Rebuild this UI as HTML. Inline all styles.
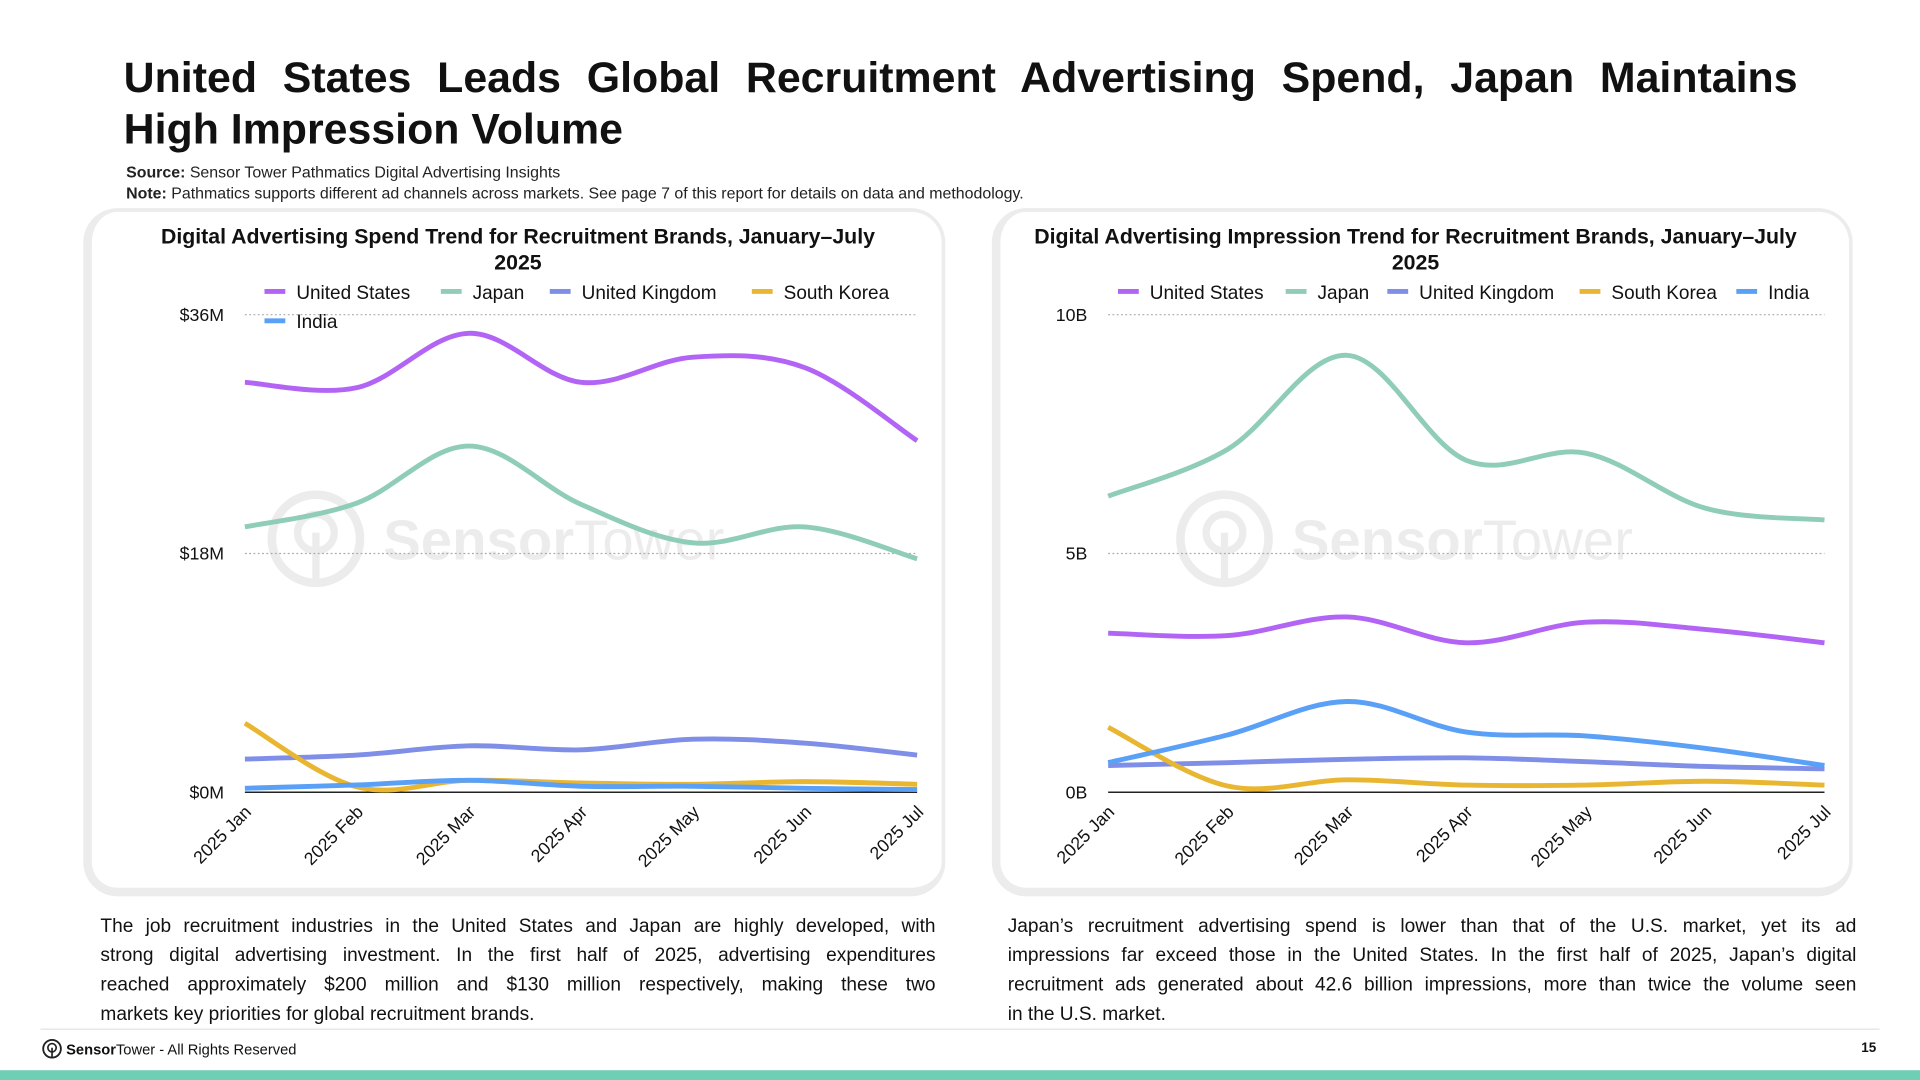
<!DOCTYPE html>
<html><head><meta charset="utf-8">
<style>
html,body{margin:0;padding:0;background:#fff;overflow:hidden}
#wrap{position:absolute;left:0;top:0;width:1568px;height:882px;transform:scale(1.22449);transform-origin:0 0;font-family:"Liberation Sans",sans-serif;color:#111}
.abs{position:absolute}
#title{left:101px;top:43px;width:1367px;font-weight:bold;font-size:35px;line-height:42px;text-align:justify;text-align-last:left}
#title span{display:block;text-align:justify;text-align-last:justify}
.meta{left:103px;font-size:13px;color:#222}
.card{border:7px solid #ececec;border-top-width:3px;border-right-width:3px;border-radius:28px;background:#fff;box-sizing:border-box}
.para{font-size:15.6px;line-height:24px;color:#111;white-space:nowrap}
.para span{display:block;text-align:justify;text-align-last:justify}
.para span.last{text-align-last:left}
</style></head>
<body>
<div id="wrap">
<div id="title" class="abs"><span>United States Leads Global Recruitment Advertising Spend, Japan Maintains</span>High Impression Volume</div>
<div class="abs meta" style="top:133px"><b>Source:</b> Sensor Tower Pathmatics Digital Advertising Insights</div>
<div class="abs meta" style="top:150px"><b>Note:</b> Pathmatics supports different ad channels across markets. See page 7 of this report for details on data and methodology.</div>
<div class="abs card" style="left:68px;top:170px;width:704px;height:562px"></div>
<div class="abs card" style="left:810px;top:170px;width:703px;height:562px"></div>
<div class="abs para" style="left:82px;top:745px;width:682px"><span>The job recruitment industries in the United States and Japan are highly developed, with</span><span>strong digital advertising investment. In the first half of 2025, advertising expenditures</span><span>reached approximately $200 million and $130 million respectively, making these two</span><span class="last">markets key priorities for global recruitment brands.</span></div>
<div class="abs para" style="left:823px;top:745px;width:693px"><span>Japan’s recruitment advertising spend is lower than that of the U.S. market, yet its ad</span><span>impressions far exceed those in the United States. In the first half of 2025, Japan’s digital</span><span>recruitment ads generated about 42.6 billion impressions, more than twice the volume seen</span><span class="last">in the U.S. market.</span></div>
<div class="abs" style="left:33px;top:840px;width:1502px;height:1px;background:#e3e3e3"></div>
<div class="abs" style="left:34px;top:848px;font-size:12px;display:flex;align-items:center">
<svg width="17" height="17" viewBox="0 0 20 20"><circle cx="10" cy="10" r="8.5" fill="none" stroke="#222" stroke-width="1.8"/><circle cx="10" cy="9" r="4" fill="none" stroke="#222" stroke-width="1.6"/><line x1="10" y1="9" x2="10" y2="18" stroke="#222" stroke-width="1.6"/></svg>
<span style="margin-left:3px"><b>Sensor</b>Tower - All Rights Reserved</span></div>
<div class="abs" style="left:1520px;top:850px;font-size:11px;font-weight:bold">15</div>
<div class="abs" style="left:0;top:874px;width:1568px;height:8px;background:#6fcfb5"></div>
<svg id="charts" class="abs" style="left:0;top:0" width="1568" height="882"></svg>
</div>
<script>
const months = ["2025 Jan","2025 Feb","2025 Mar","2025 Apr","2025 May","2025 Jun","2025 Jul"];
const seriesNames = ["United States","Japan","United Kingdom","South Korea","India"];
const seriesColors = ["#b264f5","#8fcdb8","#7f8ee6","#e8b630","#5aa0f7"];
const spendUS = [30.9,30.5,34.6,30.9,32.8,32.0,26.5];
const spendJapan = [20.0,21.8,26.1,21.7,18.8,20.0,17.6];
const spendUK = [2.5,2.8,3.5,3.2,4.0,3.7,2.8];
const spendKorea = [5.2,0.4,0.9,0.7,0.6,0.8,0.6];
const spendIndia = [0.3,0.55,0.9,0.45,0.45,0.3,0.2];
const spendTicks = [0,18,36];
const spendTickLabels = ["$0M","$18M","$36M"];
const imprUS = [3.33,3.28,3.67,3.13,3.56,3.41,3.13];
const imprJapan = [6.2,7.18,9.15,6.95,7.1,5.95,5.7];
const imprUK = [0.56,0.62,0.69,0.72,0.64,0.54,0.49];
const imprKorea = [1.36,0.13,0.26,0.15,0.15,0.23,0.15];
const imprIndia = [0.62,1.2,1.9,1.26,1.18,0.92,0.56];
const imprTicks = [0,5,10];
const imprTickLabels = ["0B","5B","10B"];

const NS="http://www.w3.org/2000/svg";
const svg=document.getElementById('charts');
function mk(tag,attrs,parent){const e=document.createElementNS(NS,tag);for(const k in attrs)e.setAttribute(k,attrs[k]);(parent||svg).appendChild(e);return e;}
function txt(s,attrs,parent){const e=mk('text',attrs,parent);e.textContent=s;return e;}

function drawChart(cfg){
  const g=mk('g',{});
  
  
  const x=i=>cfg.x0+i*(cfg.x1-cfg.x0)/(months.length-1);
  const y=v=>cfg.y0-(v/cfg.max)*(cfg.y0-cfg.y1);
  const wm=mk('g',{opacity:'0.07'},g);
  
  
  const cx=cfg.wmx, cy=440;
  mk('circle',{cx:cx,cy:cy,r:36,fill:'none',stroke:'#000','stroke-width':7},wm);
  mk('circle',{cx:cx,cy:cy-5,r:15,fill:'none',stroke:'#000','stroke-width':6},wm);
  mk('line',{x1:cx,y1:cy-5,x2:cx,y2:cy+34,stroke:'#000','stroke-width':6},wm);
  const wt=txt('',{x:cx+55,y:cy+17,'font-size':46,fill:'#000','font-family':'Liberation Sans, sans-serif'},wm);
  wt.innerHTML='<tspan font-weight="bold">Sensor</tspan>Tower';
  cfg.title.forEach((t,i)=>{const e=txt(t,{x:cfg.tcx,y:199+i*21,'text-anchor':'middle','font-size':17.4,'font-weight':'bold',fill:'#111'},g);
    });
  cfg.ticks.forEach((t,i)=>{
    const yy=y(t);
    const ln=mk('line',{x1:cfg.x0,x2:cfg.x1,y1:yy,y2:yy,stroke:t===0?'#222':'#aaa','stroke-width':t===0?1.3:1,'stroke-dasharray':t===0?'':'1.5,2'},g);
    
    const lb=txt(cfg.tickLabels[i],{x:cfg.x0-17,y:yy+5,'text-anchor':'end','font-size':14.5,fill:'#111'},g);
    
  });
  months.forEach((m,i)=>{
    const lb=txt(m,{x:0,y:0,'text-anchor':'end','font-size':14.5,fill:'#111',transform:`translate(${x(i)+6},${664}) rotate(-45)`},g);
    
  });
  cfg.series.forEach((vals,si)=>{
    const p=vals.map((v,i)=>[x(i),y(v)]);
    let d=`M${p[0][0]},${p[0][1]}`;
    for(let i=0;i<p.length-1;i++){
      const p0=p[Math.max(0,i-1)],p1=p[i],p2=p[i+1],p3=p[Math.min(p.length-1,i+2)];
      const k=0.17;
      const c1=[p1[0]+(p2[0]-p0[0])*k,p1[1]+(p2[1]-p0[1])*k];
      const c2=[p2[0]-(p3[0]-p1[0])*k,p2[1]-(p3[1]-p1[1])*k];
      d+=` C${c1[0]},${c1[1]} ${c2[0]},${c2[1]} ${p2[0]},${p2[1]}`;
    }
    const path=mk('path',{d:d,fill:'none',stroke:seriesColors[si],'stroke-width':4,'stroke-linecap':'butt','stroke-linejoin':'round'},g);
    
    
  });
  cfg.legend.forEach((pos,si)=>{
    const lg=mk('g',{},g);
    
    
    mk('rect',{x:pos[0],y:pos[1]-2,width:17,height:4,fill:seriesColors[si]},lg);
    txt(seriesNames[si],{x:pos[0]+26,y:pos[1]+6,'font-size':15.5,fill:'#111'},lg);
  });
}
drawChart({name:'spend-chart',x0:200,x1:749,y0:647,y1:257,max:36,ticks:spendTicks,tickLabels:spendTickLabels,
  series:[spendUS,spendJapan,spendUK,spendKorea,spendIndia],wmx:258,tcx:423,
  title:["Digital Advertising Spend Trend for Recruitment Brands, January–July","2025"],
  legend:[[216,238],[360,238],[449,238],[614,238],[216,262]]});
drawChart({name:'impression-chart',x0:905,x1:1490,y0:647,y1:257,max:10,ticks:imprTicks,tickLabels:imprTickLabels,
  series:[imprUS,imprJapan,imprUK,imprKorea,imprIndia],wmx:1000,tcx:1156,
  title:["Digital Advertising Impression Trend for Recruitment Brands, January–July","2025"],
  legend:[[913,238],[1050,238],[1133,238],[1290,238],[1418,238]]});
</script>
</body></html>
